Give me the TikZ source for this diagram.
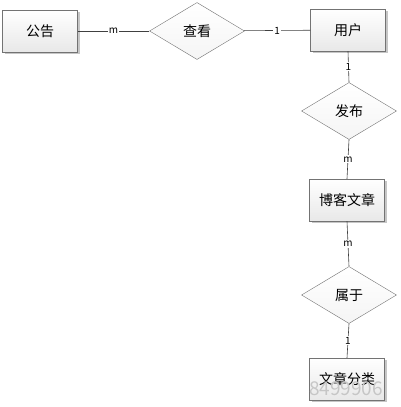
\documentclass[tikz,border=0pt]{standalone}
\usepackage{fontspec}
\setmainfont{Noto Sans CJK SC}
\usetikzlibrary{shapes.geometric,shadows}
\tikzset{
	entity/.style={draw=gray!90!black,top color=white,bottom color=gray!18,
		minimum width=75pt,minimum height=42pt,inner sep=0pt,
		drop shadow={shadow xshift=2pt,shadow yshift=-2pt,fill=gray!45,opacity=1},
		font=\fontsize{14}{16}\selectfont},
	relation/.style={diamond,draw=gray!90!black,top color=white,bottom color=gray!8,
		minimum width=95pt,minimum height=57pt,inner sep=0pt,
		font=\fontsize{14}{16}\selectfont},
	link/.style={draw=black!75,line width=0.6pt},
	card/.style={fill=white,inner sep=1pt,font=\fontsize{10}{12}\selectfont}
}
\begin{document}
\begin{tikzpicture}[x=1pt,y=-1pt]
		\useasboundingbox (0,0) rectangle (401,407); %页面大小
		% 实体
		\node[entity] (gonggao) at (40,31) {公告};
		\node[entity] (yonghu) at (348,30) {用户};
		\node[entity] (wenzhang) at (347,200) {博客文章};
		\node[entity] (fenlei) at (347,379) {文章分类};
		% 联系
		\node[relation] (chakan) at (197,31) {查看};
		\node[relation] (fabu) at (349,111) {发布};
		\node[relation] (shuyu) at (349,295) {属于};
		% 连线
		\draw[link] (gonggao) -- (chakan) node[card,midway]{m};
		\draw[link] (chakan) -- (yonghu) node[card,midway]{1};
		\draw[link] (yonghu.south) -- (fabu.north) node[card,midway]{1};
		\draw[link] (fabu.south) -- (wenzhang.north) node[card,midway]{m};
		\draw[link] (wenzhang.south) -- (shuyu.north) node[card,midway]{m};
		\draw[link] (shuyu.south) -- (fenlei.north) node[card,midway]{1};
		% 水印
		\node[text=gray!45,font=\fontsize{19}{20}\selectfont] (shuiyin) at (346,389) {8499906};
	\end{tikzpicture}
\end{document}
